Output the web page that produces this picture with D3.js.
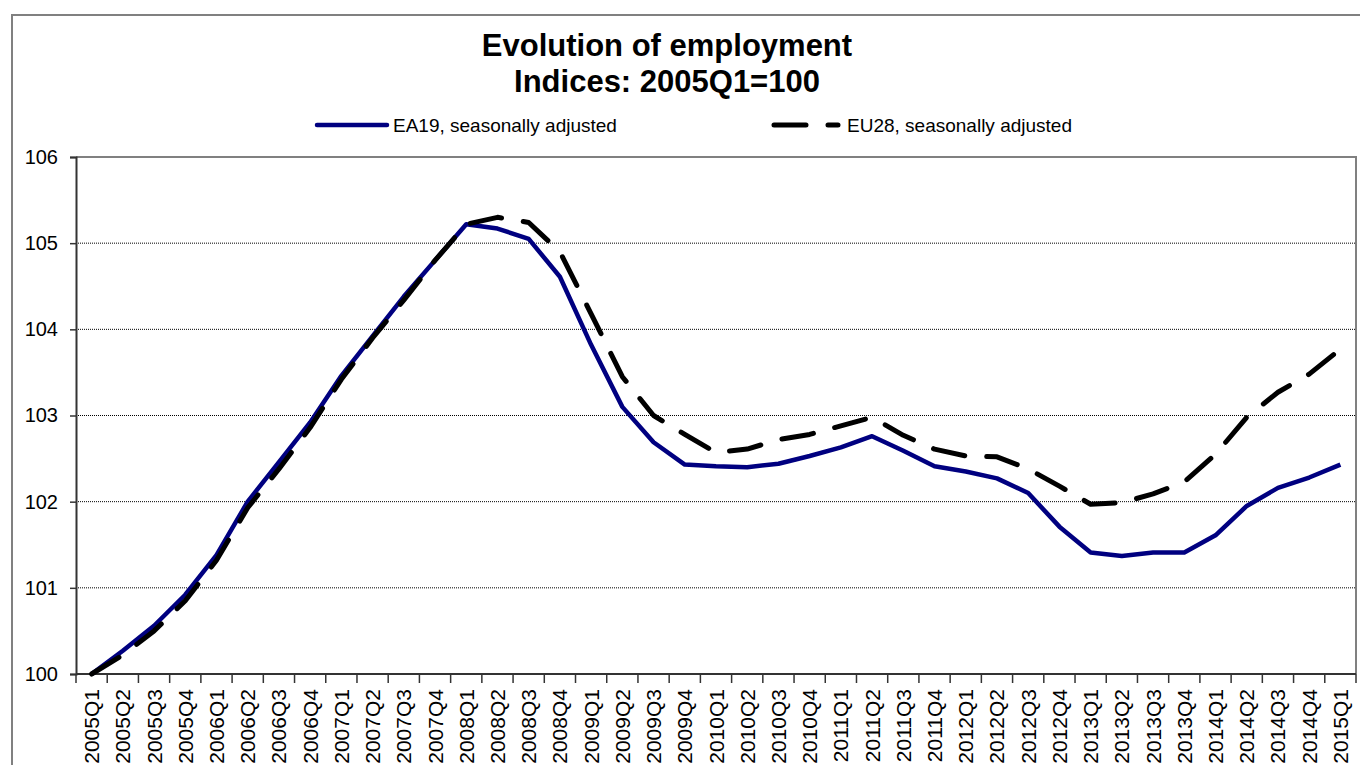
<!DOCTYPE html>
<html>
<head>
<meta charset="utf-8">
<script src="https://cdn.jsdelivr.net/npm/d3@7"></script>
<style>
  body { margin: 0; background: #fff; }
  svg { display: block; font-family: "Liberation Sans", Arial, sans-serif; }
</style>
</head>
<body>
<div id="chart"></div>
<script>
const quarters = [
    "2005Q1", "2005Q2", "2005Q3", "2005Q4",
    "2006Q1", "2006Q2", "2006Q3", "2006Q4",
    "2007Q1", "2007Q2", "2007Q3", "2007Q4",
    "2008Q1", "2008Q2", "2008Q3", "2008Q4",
    "2009Q1", "2009Q2", "2009Q3", "2009Q4",
    "2010Q1", "2010Q2", "2010Q3", "2010Q4",
    "2011Q1", "2011Q2", "2011Q3", "2011Q4",
    "2012Q1", "2012Q2", "2012Q3", "2012Q4",
    "2013Q1", "2013Q2", "2013Q3", "2013Q4",
    "2014Q1", "2014Q2", "2014Q3", "2014Q4",
    "2015Q1"
];

const ea19 = [
    100.00, 100.27, 100.56, 100.92,
    101.38, 102.00, 102.46, 102.92,
    103.46, 103.92, 104.38, 104.80,
    105.22, 105.17, 105.05, 104.61,
    103.82, 103.10, 102.69, 102.43,
    102.41, 102.40, 102.44, 102.53,
    102.63, 102.76, 102.59, 102.41,
    102.35, 102.27, 102.10, 101.71,
    101.41, 101.37, 101.41, 101.41,
    101.61, 101.95, 102.16, 102.28,
    102.43
];

const eu28 = [
    100.00, 100.22, 100.50, 100.85,
    101.32, 101.93, 102.38, 102.86,
    103.42, 103.90, 104.34, 104.80,
    105.22, 105.30, 105.24, 104.90,
    104.18, 103.45, 103.00, 102.78,
    102.57, 102.61, 102.72, 102.78,
    102.88, 102.98, 102.77, 102.61,
    102.53, 102.52, 102.38, 102.18,
    101.97, 101.99, 102.09, 102.23,
    102.55, 102.98, 103.27, 103.48,
    103.77
];

const yTicks = [100, 101, 102, 103, 104, 105, 106];

const seriesList = [
    { name: "EA19, seasonally adjusted", values: ea19, color: "#000080", width: 4.5, dash: null },
    { name: "EU28, seasonally adjusted", values: eu28, color: "#000000", width: 5, dash: "32,22" }
];

const width = 1360, height = 765;
const margin = { top: 157, right: 4, bottom: 91, left: 76 };
const plotW = width - margin.left - margin.right;
const plotH = height - margin.top - margin.bottom;

const svg = d3.select("#chart")
    .append("svg")
    .attr("width", width)
    .attr("height", height);

// outer chart frame
svg.append("rect")
    .attr("x", 12).attr("y", 15)
    .attr("width", width + 20).attr("height", height + 20)
    .attr("fill", "none")
    .attr("stroke", "#808080")
    .attr("stroke-width", 2);

// title
const title = svg.append("text")
    .attr("text-anchor", "middle")
    .attr("font-weight", "bold")
    .attr("font-size", 31);
title.append("tspan").attr("x", 667).attr("y", 56).text("Evolution of employment");
title.append("tspan").attr("x", 667).attr("y", 92).text("Indices: 2005Q1=100");

const x = d3.scaleBand()
    .domain(quarters)
    .range([0, plotW]);

const y = d3.scaleLinear()
    .domain([100, 106])
    .range([plotH, 0]);

const g = svg.append("g")
    .attr("transform", `translate(${margin.left},${margin.top})`);

// gridlines
g.selectAll(".grid")
    .data(yTicks.filter(d => d > 100 && d < 106))
    .enter()
    .append("line")
    .attr("x1", 0).attr("x2", plotW)
    .attr("y1", d => y(d)).attr("y2", d => y(d))
    .attr("stroke", "#000")
    .attr("stroke-width", 1)
    .attr("stroke-dasharray", "1,1");

// plot area top and right border
g.append("path")
    .attr("d", `M0,${y(106)}H${plotW}V${plotH}`)
    .attr("fill", "none")
    .attr("stroke", "#808080")
    .attr("stroke-width", 2);

// y axis
const yAxis = g.append("g")
    .call(d3.axisLeft(y).tickValues(yTicks).tickSize(6).tickPadding(12).tickFormat(d3.format("d")));
yAxis.select(".domain").attr("stroke", "#333").attr("stroke-width", 2);
yAxis.selectAll(".tick line").attr("stroke", "#333").attr("stroke-width", 1.5);
yAxis.selectAll("text")
    .attr("font-size", 20)
    .attr("fill", "#000")
    .attr("font-family", "Liberation Sans, Arial, sans-serif");

// x axis: ticks on band boundaries
const xAxis = g.append("g")
    .attr("transform", `translate(0,${plotH})`);
xAxis.append("line")
    .attr("x1", 0).attr("x2", plotW)
    .attr("stroke", "#333").attr("stroke-width", 2);
xAxis.selectAll(".xtick")
    .data(d3.range(quarters.length + 1))
    .enter()
    .append("line")
    .attr("x1", i => i * x.step()).attr("x2", i => i * x.step())
    .attr("y1", 0).attr("y2", 9)
    .attr("stroke", "#333").attr("stroke-width", 1.5);
xAxis.selectAll(".xlabel")
    .data(quarters)
    .enter()
    .append("text")
    .attr("transform", d => `translate(${x(d) + x.bandwidth() / 2 + 7.5},15) rotate(-90)`)
    .attr("text-anchor", "end")
    .attr("font-size", 21)
    .text(d => d);

// series lines
const line = d3.line()
    .x((d, i) => x(quarters[i]) + x.bandwidth() / 2)
    .y(d => y(d));

seriesList.forEach(s => {
    g.append("path")
        .datum(s.values)
        .attr("d", line)
        .attr("fill", "none")
        .attr("stroke", s.color)
        .attr("stroke-width", s.width)
        .attr("stroke-linejoin", "round")
        .attr("stroke-linecap", s.dash ? "round" : "butt")
        .attr("stroke-dasharray", s.dash);
});

// legend
const legendPos = [317, 774];
seriesList.forEach((s, i) => {
    const lg = svg.append("g").attr("transform", `translate(${legendPos[i]},125)`);
    lg.append("line")
        .attr("x1", 0).attr("x2", s.dash ? 64 : 70)
        .attr("stroke", s.color)
        .attr("stroke-width", s.width)
        .attr("stroke-linecap", "round")
        .attr("stroke-dasharray", s.dash);
    lg.append("text")
        .attr("x", s.dash ? 73 : 76)
        .attr("y", 6.5)
        .attr("font-size", 19)
        .text(s.name);
});
</script>
</body>
</html>
